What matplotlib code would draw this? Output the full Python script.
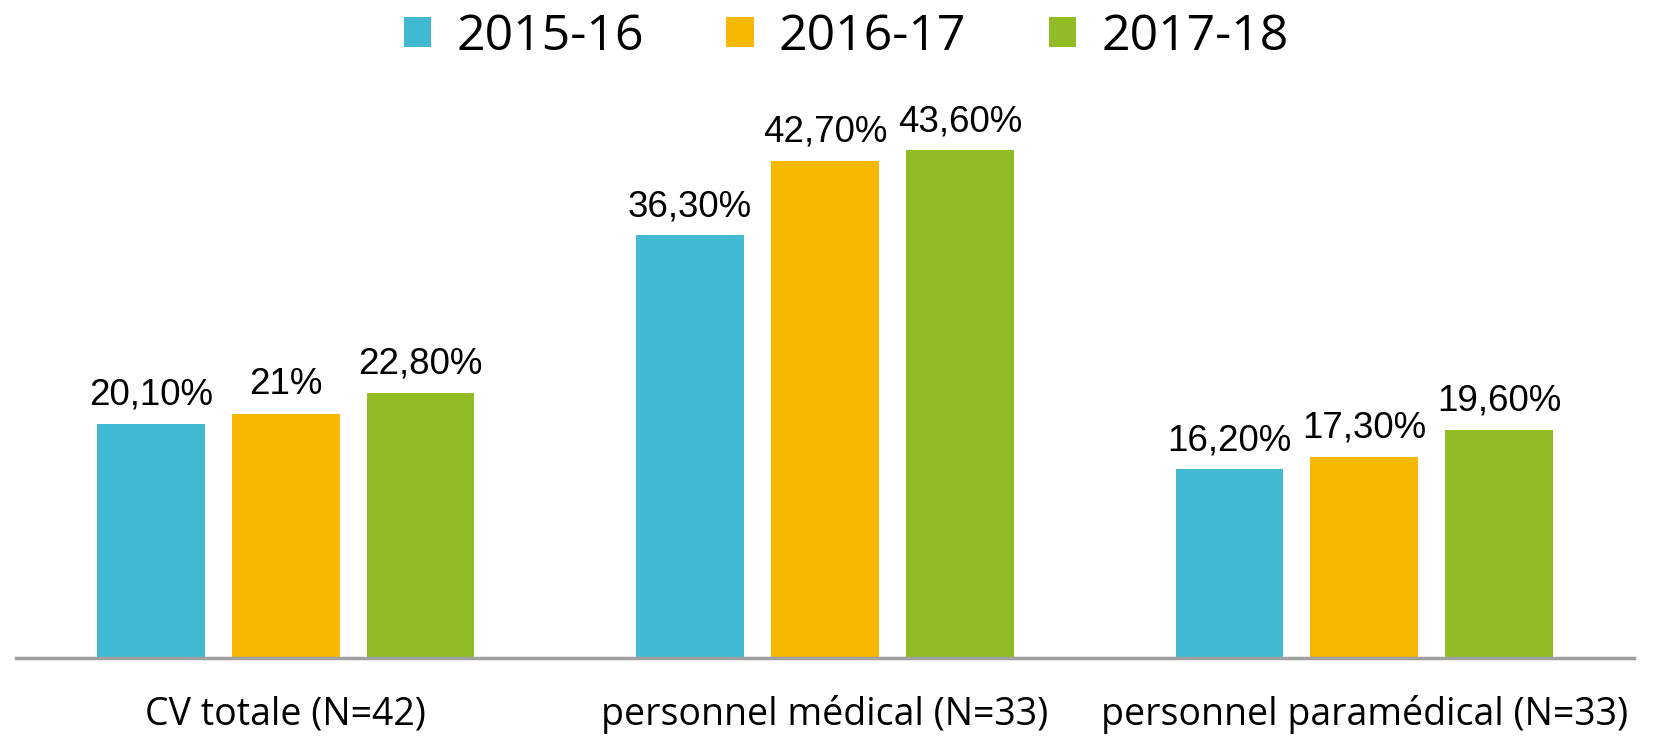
import numpy as np
import matplotlib.pyplot as plt

categories = ["CV totale (N=42)", "personnel médical (N=33)", "personnel paramédical (N=33)"]
years = ["2015-16", "2016-17", "2017-18"]
values_1516 = [20.1, 36.3, 16.2]
values_1617 = [21.0, 42.7, 17.3]
values_1718 = [22.8, 43.6, 19.6]
labels_1516 = ["20,10%", "36,30%", "16,20%"]
labels_1617 = ["21%", "42,70%", "17,30%"]
labels_1718 = ["22,80%", "43,60%", "19,60%"]

colors = ["#41B9D3", "#F9B800", "#92BC26"]

fig = plt.figure(figsize=(16.55, 7.37), dpi=100)
ax = fig.add_axes([16 / 1655, 79 / 737, 1618 / 1655, 582 / 737])

x = np.arange(len(categories))
w = 0.2
series = [values_1516, values_1617, values_1718]
labels = [labels_1516, labels_1617, labels_1718]
for i, (vals, labs) in enumerate(zip(series, labels)):
    bars = ax.bar(x + (i - 1) * 0.25, vals, w, color=colors[i], label=years[i])
    ax.bar_label(bars, labels=labs, padding=8, fontsize=26.5,
                 family="Liberation Sans", color="black")

ax.set_xlim(-0.5, 2.5)
ax.set_ylim(0, 50)
ax.set_yticks([])
ax.set_xticks(x)
ax.set_xticklabels(categories, family="Open Sans", fontsize=27)
ax.tick_params(axis="x", length=0, pad=27)
for s in ["top", "right", "left"]:
    ax.spines[s].set_visible(False)
ax.spines["bottom"].set_color("#A0A0A0")
ax.spines["bottom"].set_linewidth(2.5)

leg = fig.legend(loc="center", bbox_to_anchor=(846 / 1655, 1 - 37 / 737), ncol=3,
                 frameon=False, prop={"family": "Open Sans", "size": 36},
                 handlelength=0.55, handleheight=0.55, handletextpad=0.5,
                 columnspacing=1.65)

fig.savefig("out.png", dpi=100)
